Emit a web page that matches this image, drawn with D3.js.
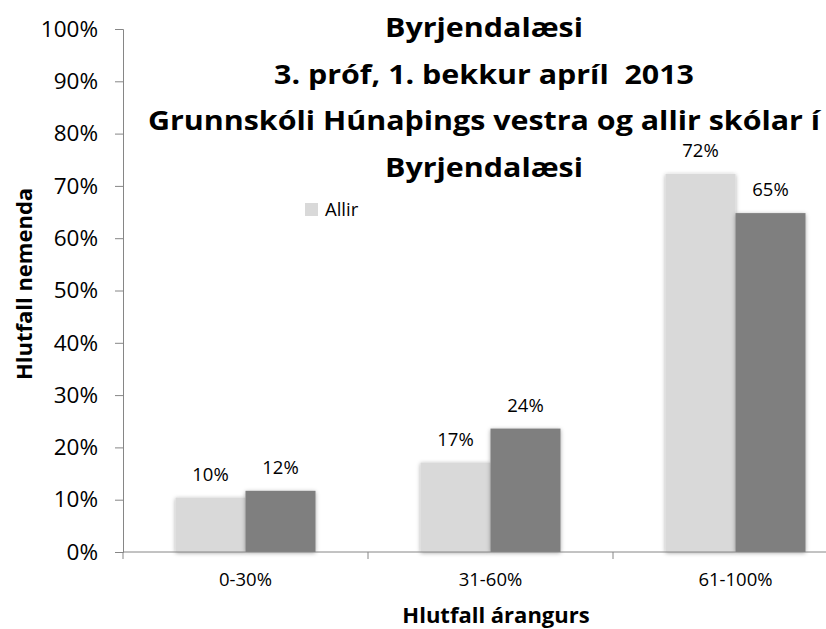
<!DOCTYPE html>
<html>
<head>
<meta charset="utf-8">
<script src="https://cdn.jsdelivr.net/npm/d3@7"></script>
<style>
  body { margin: 0; background: #fff; }
  text { font-family: "Open Sans", sans-serif; fill: #000; }
</style>
</head>
<body>
<div id="chart"></div>
<script>
const width = 826;
const height = 629;

// Data
const categories = ["0-30%", "31-60%", "61-100%"];
const seriesNames = ["Allir", "Grunnskóli Húnaþings vestra"];
const allir = [0.104, 0.171, 0.723];
const skoli = [0.117, 0.236, 0.648];
const yTicks = [0, 0.1, 0.2, 0.3, 0.4, 0.5, 0.6, 0.7, 0.8, 0.9, 1];
const titleLines = ["Byrjendalæsi", "3. próf, 1. bekkur apríl  2013", "Grunnskóli Húnaþings vestra og allir skólar í", "Byrjendalæsi"];
const colors = ["#d9d9d9", "#7f7f7f"];

const rows = categories.map((c, i) => ({ cat: c, values: [allir[i], skoli[i]] }));

const svg = d3.select("#chart")
    .append("svg")
    .attr("width", width)
    .attr("height", height);

// soft shadow like the office chart
const defs = svg.append("defs");
const shadow = defs.append("filter")
    .attr("id", "shadow")
    .attr("x", "-20%").attr("y", "-20%")
    .attr("width", "140%").attr("height", "140%");
shadow.append("feDropShadow")
    .attr("dx", 0).attr("dy", 1)
    .attr("stdDeviation", 2)
    .attr("flood-color", "#000")
    .attr("flood-opacity", 0.35);

// Scales
const x0 = d3.scaleBand()
    .domain(categories)
    .range([123, 858]);

const x1 = d3.scaleBand()
    .domain([0, 1])
    .range([0, x0.bandwidth()])
    .paddingOuter(0.75);

const y = d3.scaleLinear()
    .domain([0, 1])
    .range([552, 29]);

const pct = d3.format(".0%");

// Bars
const groups = svg.append("g")
    .selectAll("g")
    .data(rows)
    .enter()
    .append("g")
    .attr("transform", d => `translate(${x0(d.cat)},0)`);

groups.selectAll("rect")
    .data(d => d.values.map((v, i) => ({ v, i })))
    .enter()
    .append("rect")
    .attr("x", d => x1(d.i))
    .attr("y", d => y(d.v))
    .attr("width", x1.bandwidth())
    .attr("height", d => y(0) - y(d.v))
    .attr("fill", d => colors[d.i])
    .attr("filter", "url(#shadow)");

// Data labels
groups.selectAll("text")
    .data(d => d.values.map((v, i) => ({ v, i })))
    .enter()
    .append("text")
    .attr("x", d => x1(d.i) + x1.bandwidth() / 2)
    .attr("y", d => y(d.v) - 17)
    .attr("text-anchor", "middle")
    .style("font-size", "18.5px")
    .text(d => pct(d.v));

// Y axis
const yAxis = svg.append("g")
    .attr("transform", "translate(123,0)")
    .call(d3.axisLeft(y).tickValues(yTicks).tickFormat(pct).tickSize(8).tickPadding(17));
yAxis.select(".domain").attr("stroke", "#868686");
yAxis.selectAll(".tick line").attr("stroke", "#868686");
yAxis.selectAll(".tick text")
    .style("font-size", "22.5px")
    .attr("fill", "#000");

// X axis
const xAxis = svg.append("g")
    .attr("transform", "translate(0,552)");
xAxis.append("line")
    .attr("x1", 123).attr("x2", 858)
    .attr("stroke", "#868686");
xAxis.selectAll(".cat-tick")
    .data(categories)
    .enter()
    .append("line")
    .attr("x1", d => x0(d)).attr("x2", d => x0(d))
    .attr("y1", 0).attr("y2", 7)
    .attr("stroke", "#868686");
xAxis.selectAll(".cat-label")
    .data(categories)
    .enter()
    .append("text")
    .attr("x", d => x0(d) + x0.bandwidth() / 2)
    .attr("y", 34)
    .attr("text-anchor", "middle")
    .style("font-size", "18.5px")
    .text(d => d);

// Axis titles
svg.append("text")
    .attr("x", 496)
    .attr("y", 623)
    .attr("text-anchor", "middle")
    .style("font-size", "22px")
    .style("font-weight", "bold")
    .text("Hlutfall árangurs");

svg.append("text")
    .attr("transform", "translate(32,284) rotate(-90)")
    .attr("text-anchor", "middle")
    .style("font-size", "22px")
    .style("font-weight", "bold")
    .text("Hlutfall nemenda");

// Title (stretched a little sideways, as in the source picture)
svg.append("g")
    .attr("transform", "translate(484,0) scale(1.17,1)")
    .selectAll("text")
    .data(titleLines)
    .enter()
    .append("text")
    .attr("x", 0)
    .attr("y", (d, i) => 37 + i * 46.7)
    .attr("text-anchor", "middle")
    .attr("xml:space", "preserve")
    .style("white-space", "pre")
    .style("font-size", "26px")
    .style("font-weight", "bold")
    .text(d => d);

// Legend (only first entry is visible)
const legend = svg.append("g")
    .attr("transform", "translate(305,203)");
legend.append("rect")
    .attr("width", 13)
    .attr("height", 13)
    .attr("fill", colors[0]);
legend.append("text")
    .attr("x", 20)
    .attr("y", 12.5)
    .style("font-size", "18.5px")
    .text(seriesNames[0]);
</script>
</body>
</html>
